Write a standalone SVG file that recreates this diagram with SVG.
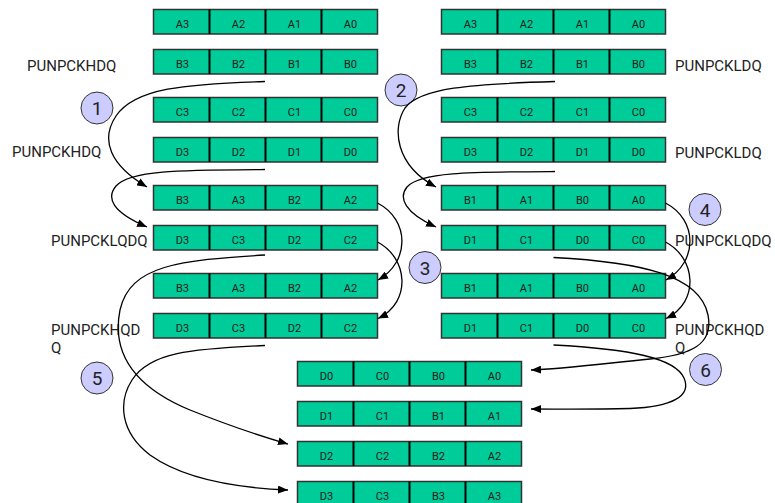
<svg xmlns="http://www.w3.org/2000/svg" width="775" height="503" viewBox="0 0 775 503">
  <style>
    .reg { fill: #00cc99; stroke: #333333; stroke-width: 1.5; }
    .div { fill: none; stroke: #000000; stroke-width: 2; }
    .cell { font-family: Roboto, "Liberation Sans", sans-serif; font-size: 11px; fill: #1a1a1a; text-anchor: middle; }
    .lbl { font-family: Roboto, "Liberation Sans", sans-serif; font-size: 15px; fill: #222222; }
    .step circle { fill: #ccccff; stroke: #333333; stroke-width: 1; }
    .step text { font-family: Roboto, "Liberation Sans", sans-serif; font-size: 19px; fill: #222222; text-anchor: middle; }
    .wire { fill: none; stroke: #000000; stroke-width: 1.3; marker-end: url(#head); }
    .tail { fill: none; stroke: #000000; stroke-width: 1.3; }
  </style>
  <defs>
    <marker id="head" viewBox="0 0 10 8" refX="10" refY="4" markerWidth="10" markerHeight="8" markerUnits="userSpaceOnUse" orient="auto">
      <path d="M0,0 L10,4 L0,8 Z" fill="#000000"/>
    </marker>
    <!-- a 4-lane register: outline plus lane dividers -->
    <g id="regbox">
      <rect class="reg" x="0" y="0" width="224" height="24.5"/>
      <path class="div" d="M56,0v24.5M112,0v24.5M168,0v24.5"/>
    </g>
  </defs>

  <!-- left column of registers -->
  <g id="L1" transform="translate(153.5,9.5)"><use href="#regbox"/><text class="cell" x="29" y="18.5">A3</text><text class="cell" x="85" y="18.5">A2</text><text class="cell" x="141" y="18.5">A1</text><text class="cell" x="197" y="18.5">A0</text></g>
  <g id="L2" transform="translate(153.5,49.5)"><use href="#regbox"/><text class="cell" x="29" y="18.5">B3</text><text class="cell" x="85" y="18.5">B2</text><text class="cell" x="141" y="18.5">B1</text><text class="cell" x="197" y="18.5">B0</text></g>
  <g id="L3" transform="translate(153.5,97.5)"><use href="#regbox"/><text class="cell" x="29" y="18.5">C3</text><text class="cell" x="85" y="18.5">C2</text><text class="cell" x="141" y="18.5">C1</text><text class="cell" x="197" y="18.5">C0</text></g>
  <g id="L4" transform="translate(153.5,137.5)"><use href="#regbox"/><text class="cell" x="29" y="18.5">D3</text><text class="cell" x="85" y="18.5">D2</text><text class="cell" x="141" y="18.5">D1</text><text class="cell" x="197" y="18.5">D0</text></g>
  <g id="L5" transform="translate(153.5,185.5)"><use href="#regbox"/><text class="cell" x="29" y="18.5">B3</text><text class="cell" x="85" y="18.5">A3</text><text class="cell" x="141" y="18.5">B2</text><text class="cell" x="197" y="18.5">A2</text></g>
  <g id="L6" transform="translate(153.5,225.5)"><use href="#regbox"/><text class="cell" x="29" y="18.5">D3</text><text class="cell" x="85" y="18.5">C3</text><text class="cell" x="141" y="18.5">D2</text><text class="cell" x="197" y="18.5">C2</text></g>
  <g id="L7" transform="translate(153.5,273.5)"><use href="#regbox"/><text class="cell" x="29" y="18.5">B3</text><text class="cell" x="85" y="18.5">A3</text><text class="cell" x="141" y="18.5">B2</text><text class="cell" x="197" y="18.5">A2</text></g>
  <g id="L8" transform="translate(153.5,313.5)"><use href="#regbox"/><text class="cell" x="29" y="18.5">D3</text><text class="cell" x="85" y="18.5">C3</text><text class="cell" x="141" y="18.5">D2</text><text class="cell" x="197" y="18.5">C2</text></g>

  <!-- right column of registers -->
  <g id="R1" transform="translate(441.5,9.5)"><use href="#regbox"/><text class="cell" x="29" y="18.5">A3</text><text class="cell" x="85" y="18.5">A2</text><text class="cell" x="141" y="18.5">A1</text><text class="cell" x="197" y="18.5">A0</text></g>
  <g id="R2" transform="translate(441.5,49.5)"><use href="#regbox"/><text class="cell" x="29" y="18.5">B3</text><text class="cell" x="85" y="18.5">B2</text><text class="cell" x="141" y="18.5">B1</text><text class="cell" x="197" y="18.5">B0</text></g>
  <g id="R3" transform="translate(441.5,97.5)"><use href="#regbox"/><text class="cell" x="29" y="18.5">C3</text><text class="cell" x="85" y="18.5">C2</text><text class="cell" x="141" y="18.5">C1</text><text class="cell" x="197" y="18.5">C0</text></g>
  <g id="R4" transform="translate(441.5,137.5)"><use href="#regbox"/><text class="cell" x="29" y="18.5">D3</text><text class="cell" x="85" y="18.5">D2</text><text class="cell" x="141" y="18.5">D1</text><text class="cell" x="197" y="18.5">D0</text></g>
  <g id="R5" transform="translate(441.5,185.5)"><use href="#regbox"/><text class="cell" x="29" y="18.5">B1</text><text class="cell" x="85" y="18.5">A1</text><text class="cell" x="141" y="18.5">B0</text><text class="cell" x="197" y="18.5">A0</text></g>
  <g id="R6" transform="translate(441.5,225.5)"><use href="#regbox"/><text class="cell" x="29" y="18.5">D1</text><text class="cell" x="85" y="18.5">C1</text><text class="cell" x="141" y="18.5">D0</text><text class="cell" x="197" y="18.5">C0</text></g>
  <g id="R7" transform="translate(441.5,273.5)"><use href="#regbox"/><text class="cell" x="29" y="18.5">B1</text><text class="cell" x="85" y="18.5">A1</text><text class="cell" x="141" y="18.5">B0</text><text class="cell" x="197" y="18.5">A0</text></g>
  <g id="R8" transform="translate(441.5,313.5)"><use href="#regbox"/><text class="cell" x="29" y="18.5">D1</text><text class="cell" x="85" y="18.5">C1</text><text class="cell" x="141" y="18.5">D0</text><text class="cell" x="197" y="18.5">C0</text></g>

  <!-- final transposed rows -->
  <g id="T0" transform="translate(297.5,361.5)"><use href="#regbox"/><text class="cell" x="29" y="18.5">D0</text><text class="cell" x="85" y="18.5">C0</text><text class="cell" x="141" y="18.5">B0</text><text class="cell" x="197" y="18.5">A0</text></g>
  <g id="T1" transform="translate(297.5,401.5)"><use href="#regbox"/><text class="cell" x="29" y="18.5">D1</text><text class="cell" x="85" y="18.5">C1</text><text class="cell" x="141" y="18.5">B1</text><text class="cell" x="197" y="18.5">A1</text></g>
  <g id="T2" transform="translate(297.5,441.5)"><use href="#regbox"/><text class="cell" x="29" y="18.5">D2</text><text class="cell" x="85" y="18.5">C2</text><text class="cell" x="141" y="18.5">B2</text><text class="cell" x="197" y="18.5">A2</text></g>
  <g id="T3" transform="translate(297.5,481.5)"><use href="#regbox"/><text class="cell" x="29" y="18.5">D3</text><text class="cell" x="85" y="18.5">C3</text><text class="cell" x="141" y="18.5">B3</text><text class="cell" x="197" y="18.5">A3</text></g>

  <!-- instruction labels -->
  <g id="labels">
    <text class="lbl" x="27" y="71">PUNPCKHDQ</text>
    <text class="lbl" x="12" y="157">PUNPCKHDQ</text>
    <text class="lbl" x="675" y="71">PUNPCKLDQ</text>
    <text class="lbl" x="675" y="157.5">PUNPCKLDQ</text>
    <text class="lbl" x="51" y="246">PUNPCKLQDQ</text>
    <text class="lbl" x="675" y="246">PUNPCKLQDQ</text>
    <text class="lbl" x="51" y="335">PUNPCKHQD</text>
    <text class="lbl" x="51" y="353">Q</text>
    <text class="lbl" x="675" y="335">PUNPCKHQD</text>
    <text class="lbl" x="675" y="353">Q</text>
  </g>

  <!-- step markers -->
  <g id="step1" class="step"><circle cx="97" cy="108" r="16"/><text x="97" y="115">1</text></g>
  <g id="step2" class="step"><circle cx="401" cy="90" r="16"/><text x="401" y="97">2</text></g>
  <g id="step3" class="step"><circle cx="425" cy="267.5" r="16"/><text x="425" y="274.5">3</text></g>
  <g id="step4" class="step"><circle cx="705" cy="209.5" r="16"/><text x="705" y="216.5">4</text></g>
  <g id="step5" class="step"><circle cx="97" cy="378" r="16"/><text x="97" y="385">5</text></g>
  <g id="step6" class="step"><circle cx="705.5" cy="369.5" r="16"/><text x="705.5" y="376.5">6</text></g>

  <!-- data-flow connectors -->
  <g id="connectors">
    <path class="wire" d="M265,81.5 C185,84 135,88 116,116 C100,140 110,165 147,187"/>
    <path class="wire" d="M265,169.5 C180,170 130,170 116,186 C106,198 112,212 147,227"/>
    <path class="wire" d="M555,81.5 C470,84 420,88 405,108 C392,128 395,165 436,187"/>
    <path class="wire" d="M555,171.5 C470,172 420,172 407,187 C398,198 405,213 436,227"/>
    <path class="wire" d="M377.5,203 C410,220 410,262 378,280"/>
    <path class="wire" d="M377.5,242 C408,258 412,302 378,318.5"/>
    <path class="wire" d="M665.5,203 C698,220 698,262 666,280"/>
    <path class="wire" d="M665.5,242 C696,258 700,302 666,318.5"/>
    <path class="wire" d="M265,255 C180,260 130,265 120,310 C112,350 130,385 190,410 C230,426 260,436 288,444"/>
    <path class="wire" d="M265,345.5 C190,349 150,352 132,380 C118,402 120,432 150,455 C185,480 240,488 288,490"/>
    <path class="wire" d="M553.5,257.5 C640,262 700,275 708,315 C714,345 690,355 650,359 C600,364 560,369 531,370"/>
    <path class="wire" d="M553.5,345 C630,349 675,358 684,378 C692,396 672,407 630,408.5 C590,409.5 560,409 531,409"/>
  </g>
</svg>
